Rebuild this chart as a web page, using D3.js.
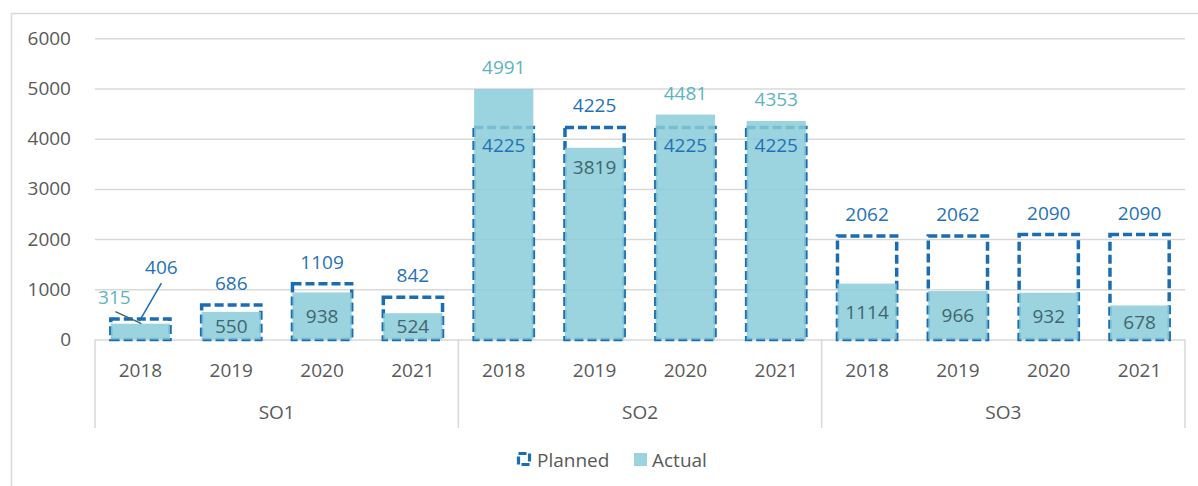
<!DOCTYPE html>
<html>
<head>
<meta charset="utf-8">
<script src="https://cdn.jsdelivr.net/npm/d3@7"></script>
<style>
  html, body { margin: 0; padding: 0; background: #fff; }
  svg { display: block; font-family: "Open Sans", "Noto Sans", sans-serif; }
</style>
</head>
<body>
<svg id="chart" width="1198" height="486"></svg>
<script>
// Strategic objectives and reporting years
const groups = ["SO1", "SO2", "SO3"];
const years = ["2018", "2019", "2020", "2021"];

// Values per group, in year order
const planned = [406, 686, 1109, 842, 4225, 4225, 4225, 4225, 2062, 2062, 2090, 2090];
const actual  = [315, 550, 938, 524, 4991, 3819, 4481, 4353, 1114, 966, 932, 678];

const yTicks = [0, 1000, 2000, 3000, 4000, 5000, 6000];

const rows = [];
groups.forEach((g, gi) => years.forEach((yr, yi) => {
  const i = gi * years.length + yi;
  rows.push({ key: g + "-" + yr, group: g, year: yr, planned: planned[i], actual: actual[i] });
}));

const svg = d3.select("#chart");
const W = 1198, H = 486;
const plot = { left: 95, right: 1185, top: 38.3, bottom: 339.5 };

const colors = {
  grid: "#d9d9d9",
  text: "#595959",
  planned: "#1a6db4",
  plannedLabel: "#1f72b8",
  actualFill: "rgba(137, 204, 216, 0.85)",
  actualOut: "#5cb4c2",
  actualIn: "#3f6670"
};

// outer chart frame
svg.append("rect")
  .attr("x", 11.5).attr("y", 13.5)
  .attr("width", W + 20).attr("height", H + 20)
  .attr("fill", "none").attr("stroke", colors.grid).attr("stroke-width", 1.5);

const x = d3.scaleBand()
  .domain(rows.map(d => d.key))
  .range([plot.left, plot.right])
  .paddingInner(0.315)
  .paddingOuter(0.1575);

const y = d3.scaleLinear().domain([0, 6000]).range([plot.bottom, plot.top]);

// gridlines and value axis
const yAxis = d3.axisLeft(y).tickValues(yTicks).tickFormat(d3.format("d"))
  .tickSize(-(plot.right - plot.left)).tickPadding(24);
const ga = svg.append("g").attr("transform", `translate(${plot.left},0)`).call(yAxis);
ga.select(".domain").remove();
ga.selectAll(".tick line").attr("stroke", colors.grid).attr("stroke-width", 1.5);
ga.selectAll(".tick text")
  .attr("fill", colors.text).attr("font-size", 19)
  .attr("font-family", "'Open Sans', sans-serif");

// category axis: year labels, group labels, group separators
const groupStep = (plot.right - plot.left) / groups.length;
const sepBottom = 428;
const axisG = svg.append("g");
groups.concat([null]).forEach((g, gi) => {
  const xs = plot.left + gi * groupStep;
  axisG.append("line")
    .attr("x1", xs).attr("x2", xs).attr("y1", plot.bottom).attr("y2", sepBottom)
    .attr("stroke", colors.grid).attr("stroke-width", 1.5);
});
rows.forEach(d => {
  axisG.append("text")
    .attr("x", x(d.key) + x.bandwidth() / 2).attr("y", 370)
    .attr("text-anchor", "middle").attr("dominant-baseline", "central")
    .attr("fill", colors.text).attr("font-size", 19)
    .text(d.year);
});
groups.forEach((g, gi) => {
  axisG.append("text")
    .attr("x", plot.left + (gi + 0.5) * groupStep).attr("y", 412)
    .attr("text-anchor", "middle").attr("dominant-baseline", "central")
    .attr("fill", colors.text).attr("font-size", 19)
    .text(g);
});

// planned: dashed outline boxes
svg.append("g").selectAll("rect").data(rows).join("rect")
  .attr("x", d => x(d.key) + 1.5)
  .attr("y", d => y(d.planned))
  .attr("width", x.bandwidth() - 3)
  .attr("height", d => y(0) - y(d.planned))
  .attr("fill", "none")
  .attr("stroke", colors.planned)
  .attr("stroke-width", 3.5)
  .attr("stroke-dasharray", "9,4");

// actual: translucent filled bars drawn over the planned boxes
svg.append("g").selectAll("rect").data(rows).join("rect")
  .attr("x", d => x(d.key) + 1.5)
  .attr("y", d => y(d.actual))
  .attr("width", x.bandwidth() - 3)
  .attr("height", d => y(0) - y(d.actual))
  .attr("fill", colors.actualFill);

// data labels
const lbl = svg.append("g").attr("font-size", 19).attr("text-anchor", "middle");
const cx = d => x(d.key) + x.bandwidth() / 2;
const first = rows[0];

rows.forEach(d => {
  if (d === first) return;
  // planned value
  const pTop = y(d.planned);
  const pY = d.planned >= d.actual ? pTop - 22 : pTop + 18;
  lbl.append("text").attr("x", cx(d)).attr("y", pY)
    .attr("dominant-baseline", "central").attr("fill", colors.plannedLabel)
    .text(d.planned);
  // actual value
  const aTop = y(d.actual);
  let aY, fill;
  if (d.actual > d.planned) { aY = aTop - 22; fill = colors.actualOut; }
  else if (d.actual > 3000) { aY = aTop + 19; fill = colors.actualIn; }
  else { aY = (aTop + y(0)) / 2; fill = colors.actualIn; }
  lbl.append("text").attr("x", cx(d)).attr("y", aY)
    .attr("dominant-baseline", "central").attr("fill", fill)
    .text(d.actual);
});

// callouts for the smallest bar, where labels do not fit
{
  const c = cx(first);
  const pTop = y(first.planned), aTop = y(first.actual);
  lbl.append("line")
    .attr("x1", c + 21).attr("y1", pTop - 36).attr("x2", c - 1).attr("y2", pTop + 2)
    .attr("stroke", colors.planned).attr("stroke-width", 1.5);
  lbl.append("text").attr("x", c + 21).attr("y", pTop - 52)
    .attr("dominant-baseline", "central").attr("fill", colors.plannedLabel)
    .text(first.planned);
  lbl.append("line")
    .attr("x1", c - 25).attr("y1", aTop - 12).attr("x2", c + 1).attr("y2", aTop)
    .attr("stroke", colors.actualIn).attr("stroke-width", 1.5);
  lbl.append("text").attr("x", c - 26).attr("y", aTop - 27)
    .attr("dominant-baseline", "central").attr("fill", colors.actualOut)
    .text(first.actual);
}

// legend
const leg = svg.append("g").attr("font-size", 19).attr("fill", colors.text);
leg.append("rect").attr("x", 518.5).attr("y", 453.5).attr("width", 11).attr("height", 11)
  .attr("fill", "none").attr("stroke", colors.planned).attr("stroke-width", 3.2)
  .attr("stroke-dasharray", "8,3");
leg.append("text").attr("x", 537).attr("y", 460).attr("dominant-baseline", "central").text("Planned");
leg.append("rect").attr("x", 634).attr("y", 453).attr("width", 13).attr("height", 13)
  .attr("fill", colors.actualFill);
leg.append("text").attr("x", 652).attr("y", 460).attr("dominant-baseline", "central").text("Actual");
</script>
</body>
</html>
